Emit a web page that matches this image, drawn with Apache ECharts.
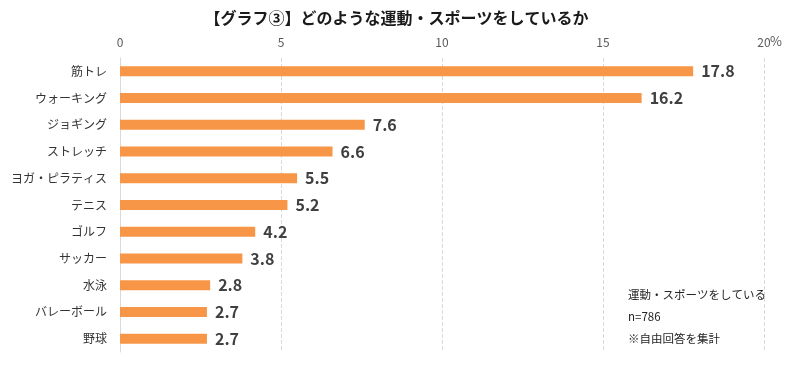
<!DOCTYPE html>
<html><head><meta charset="utf-8">
<script src="https://cdn.jsdelivr.net/npm/echarts@6/dist/echarts.min.js"></script>
<style>html,body{margin:0;padding:0;background:#fff}#c{width:793px;height:389px}</style>
</head><body><div id="c"></div>
<script>
const categories = ['筋トレ','ウォーキング','ジョギング','ストレッチ','ヨガ・ピラティス','テニス','ゴルフ','サッカー','水泳','バレーボール','野球'];
const values = [17.8,16.2,7.6,6.6,5.5,5.2,4.2,3.8,2.8,2.7,2.7];
const titleText = '【グラフ③】どのような運動・スポーツをしているか';
const noteLines = ['運動・スポーツをしている','n=786','※自由回答を集計'];
const font = '"Noto Sans CJK JP", "Noto Sans", sans-serif';
const chart = echarts.init(document.getElementById('c'));
chart.setOption({
  animation:false,
  textStyle:{fontFamily:font},
  title:{text:titleText,left:'center',top:5,textStyle:{fontSize:16,fontWeight:'bold',color:'#1a1a1a',fontFamily:font}},
  grid:{left:120,right:29,top:58,bottom:37,containLabel:false},
  xAxis:{type:'value',position:'top',min:0,max:20,interval:5,
    axisLine:{show:false},axisTick:{show:false},
    axisLabel:{color:'#595959',fontSize:12,margin:10,fontFamily:font},
    splitLine:{show:true,lineStyle:{type:'dashed',color:'#d9d9d9'}}},
  yAxis:{type:'category',data:categories,inverse:true,
    axisLine:{show:true,lineStyle:{color:'#d9d9d9'}},axisTick:{show:false},
    axisLabel:{color:'#333333',fontSize:12,margin:13,fontFamily:font}},
  series:[{type:'bar',data:values,barWidth:10,itemStyle:{color:'#F79646'},
    label:{show:true,position:'right',distance:8,formatter:p=>p.value.toFixed(1),
      fontSize:16,fontWeight:'bold',color:'#404040',fontFamily:font}}],
  graphic:[
    {type:'text',left:770,top:35,style:{text:'%',fontSize:13,fill:'#595959',fontFamily:font}},
    {type:'text',left:628,top:284,style:{text:noteLines.join('\n'),fontSize:11.5,lineHeight:22,fill:'#262626',fontFamily:font}}
  ]
});
</script></body></html>
